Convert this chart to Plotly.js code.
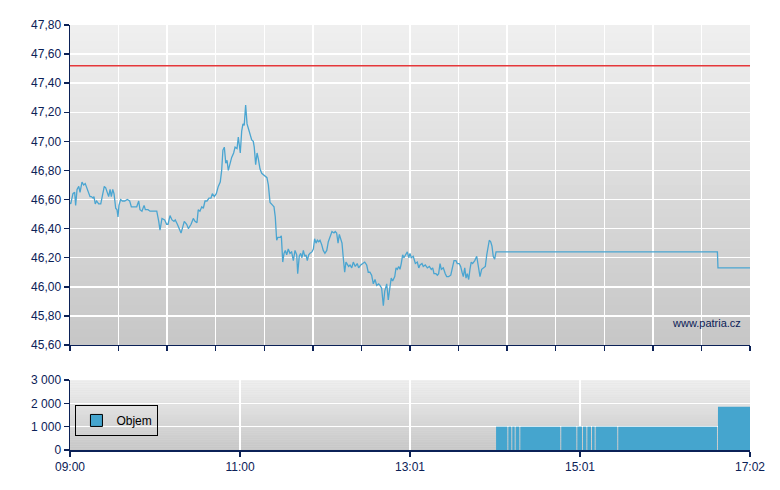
<!DOCTYPE html>
<html>
<head>
<meta charset="utf-8">
<script src="https://cdn.plot.ly/plotly-3.0.1.min.js"></script>
<style>html,body{margin:0;padding:0;background:#fff;}#chart{width:780px;height:490px;}</style>
</head>
<body>
<div id="chart"></div>
<script>
// ---- DATA ----
// minutes since 09:00
const priceMinutes = [0,0.5,2.1,3.3,4.0,5.0,6.2,7.1,8.5,9.7,10.8,12.3,13.3,14.2,15.1,16.3,17.0,17.9,18.9,20.3,21.8,23.2,24.3,25.3,26.4,27.4,28.4,29.3,30.3,31.2,32.4,33.3,34.0,34.7,35.9,37.1,38.8,40.6,42.3,43.5,45.4,47.3,48.7,49.6,51.0,52.5,53.4,55.3,56.7,58.1,60.0,61.5,62.9,63.8,65.2,67.1,68.5,69.5,70.9,72.3,73.7,74.6,76.1,76.8,78.7,79.6,81.0,82.7,83.9,85.8,87.4,88.6,90.0,90.9,92.1,93.4,94.5,95.7,97.1,98.5,99.9,100.9,102.3,103.7,105.1,106.5,107.5,108.4,109.4,110.4,111.3,112.2,113.4,114.6,116.0,117.0,118.4,119.3,120.7,121.7,122.6,123.5,124.5,125.5,126.4,127.6,128.8,129.9,130.6,131.6,132.6,133.5,134.7,135.9,137.0,138.2,139.6,140.6,141.8,143.7,144.6,145.5,146.5,147.4,148.9,149.8,150.8,151.7,152.6,153.6,154.7,155.9,157.1,158.3,159.5,160.7,161.4,162.5,163.5,164.4,165.4,166.4,167.3,168.2,169.2,170.1,171.5,172.5,173.4,174.4,175.3,176.3,177.2,178.4,179.5,180.7,182.0,183.1,184.3,185.7,187.1,188.0,189.0,190.0,190.9,191.9,192.8,193.7,194.7,195.6,196.6,197.5,198.5,199.7,200.8,202.2,203.6,204.6,206.1,207.5,208.9,210.3,211.4,212.6,213.8,215.0,216.2,217.4,218.8,219.7,220.9,222.1,223.1,224.5,225.6,226.8,227.7,228.7,230.2,231.1,232.0,233.0,233.9,234.8,235.8,236.7,238.2,239.1,240.1,241.0,241.9,243.3,244.8,246.2,247.2,248.1,249.5,250.4,251.8,253.3,254.7,256.1,257.1,258.0,259.4,260.4,261.3,262.3,263.2,264.6,266.0,267.0,268.4,269.9,270.8,272.2,273.6,274.5,275.9,276.9,277.9,278.8,279.8,280.7,281.6,282.6,283.5,284.4,285.4,286.9,288.3,289.2,290.6,291.8,293.0,294.4,295.4,296.3,297.2,298.2,299.1,300.0,301.0,302.0,458.9,459.3,482];
const priceValues = [46.58,46.57,46.64,46.65,46.56,46.67,46.69,46.65,46.72,46.70,46.71,46.67,46.64,46.62,46.62,46.61,46.62,46.57,46.59,46.57,46.57,46.63,46.69,46.68,46.64,46.62,46.67,46.62,46.67,46.64,46.54,46.53,46.48,46.56,46.60,46.59,46.59,46.60,46.59,46.55,46.55,46.55,46.59,46.53,46.52,46.56,46.53,46.53,46.52,46.52,46.52,46.52,46.45,46.39,46.47,46.46,46.43,46.43,46.49,46.46,46.45,46.46,46.43,
46.41,46.37,46.40,46.45,46.43,46.40,46.43,46.47,46.45,46.44,46.53,46.52,46.55,46.54,46.59,46.59,46.61,46.61,46.64,46.62,46.64,46.69,46.72,46.80,46.94,46.96,46.85,46.87,46.80,46.85,46.89,46.92,46.96,46.95,47.03,46.92,47.07,47.12,47.11,47.25,47.12,47.09,47.04,47.01,47.00,46.96,46.84,46.92,46.88,46.81,46.78,46.77,46.76,46.75,46.70,46.58,46.56,46.55,46.48,46.32,46.34,46.34,46.35,46.17,46.23,46.25,46.22,46.26,46.23,46.24,46.18,46.25,46.22,46.09,46.21,46.23,46.20,46.25,46.21,46.22,46.18,46.22,46.23,46.24,46.26,46.33,46.30,46.32,46.31,46.32,46.29,46.25,46.23,46.25,46.31,46.34,46.38,46.37,46.38,46.37,46.30,46.36,46.33,46.30,46.20,46.10,46.17,46.15,46.14,46.15,46.13,46.17,46.14,46.16,46.13,46.15,46.16,46.17,46.15,46.10,46.10,46.08,46.02,46.05,46.01,46.02,46.01,45.99,45.87,45.97,46.02,45.91,46.00,46.06,46.04,46.07,46.13,46.12,46.14,46.12,46.16,46.22,46.20,46.23,46.24,46.20,46.23,46.20,46.21,46.16,46.17,46.13,46.15,46.16,46.14,46.15,46.13,46.14,46.12,46.13,46.09,46.09,46.08,46.09,46.16,46.12,46.13,46.09,46.07,46.07,46.08,46.12,46.18,46.18,46.16,46.16,46.14,46.10,46.07,46.13,46.06,46.09,46.05,46.12,46.17,46.16,46.18,46.21,46.15,46.07,46.12,46.13,46.14,46.22,46.29,46.32,46.31,46.28,46.21,46.19,46.24,46.24,46.13,46.13];
const prevClose = 47.52;
const sessionStart = 0;
const sessionEnd = 482;
const volumeMinutes = [302.0,310.7,313.5,315.9,319.2,348.2,359.6,363.6,366.7,370.0,372.6,388.6,459.3];
const volumeValues = [1000,1000,1000,1000,1000,1000,1000,1000,1000,1000,1000,1000,1850];
const xTickLabels = ['09:00','11:00','13:01','15:01','17:02'];
const priceTicks = [45.6,45.8,46.0,46.2,46.4,46.6,46.8,47.0,47.2,47.4,47.6,47.8];
const volumeTicks = [0,1000,2000,3000];

// ---- STYLE ----
const navy = '#0b2157';
const blue = '#4aa5d1';
const font = 'Arial, "Liberation Sans", sans-serif';
const gap = 0.7;

const volWidths = volumeMinutes.map((t, i) => {
  const next = i < volumeMinutes.length - 1 ? volumeMinutes[i + 1] : sessionEnd;
  return next - t - (i < volumeMinutes.length - 1 ? gap : 0);
});

const span = sessionEnd - sessionStart;
const topTicks = [];
for (let k = 0; k <= 14; k++) topTicks.push(sessionStart + span * k / 14);
const bottomTicks = xTickLabels.map((_, k) => sessionStart + span * k / (xTickLabels.length - 1));

const traces = [
  {x: [sessionStart, sessionEnd], y: [prevClose, prevClose], type: 'scatter', mode: 'lines',
   line: {color: '#e5373a', width: 1.5}, xaxis: 'x', yaxis: 'y', showlegend: false, hoverinfo: 'skip'},
  {x: priceMinutes, y: priceValues, type: 'scatter', mode: 'lines',
   line: {color: blue, width: 1.3}, xaxis: 'x', yaxis: 'y', showlegend: false},
  {x: volumeMinutes, y: volumeValues, width: volWidths, offset: 0, type: 'bar',
   marker: {color: '#45a5ce', line: {width: 0}}, xaxis: 'x2', yaxis: 'y2', showlegend: false, name: 'Objem'},
  {x: [null], y: [null], type: 'bar', name: 'Objem',
   marker: {color: '#45a5ce', line: {color: '#000', width: 1}}, xaxis: 'x2', yaxis: 'y2', showlegend: true}
];

// gradient backgrounds
const shapes = [];
function gradient(xr, yr) {
  const n = 40;
  const c0 = 240, c1 = 198;
  for (let i = 0; i < n; i++) {
    const c = Math.round(c0 + (c1 - c0) * (i + 0.5) / n);
    shapes.push({type: 'rect', xref: xr, yref: yr, x0: 0, x1: 1,
      y0: 1 - (i + 1) / n, y1: 1 - i / n, fillcolor: `rgb(${c},${c},${c})`,
      line: {width: 0}, layer: 'below'});
  }
}
gradient('x domain', 'y domain');
gradient('x2 domain', 'y2 domain');

const axisCommon = {
  showline: true, linecolor: navy, linewidth: 1.5, ticks: 'outside', ticklen: 5,
  tickcolor: navy, tickwidth: 1.5, gridcolor: '#ffffff', gridwidth: 1.5, zeroline: false,
  tickfont: {family: font, size: 12, color: navy}, fixedrange: true
};

const layout = {
  width: 780, height: 490,
  margin: {l: 70, r: 30, t: 25, b: 40},
  paper_bgcolor: '#ffffff', plot_bgcolor: '#dcdcdc',
  separators: ', ',
  showlegend: true,
  legend: {x: 0.008, y: 0.106, xanchor: 'left', yanchor: 'top', bgcolor: 'rgba(0,0,0,0)',
    bordercolor: '#000', borderwidth: 1, font: {family: font, size: 12, color: '#000'},
    itemwidth: 30, tracegroupgap: 0},
  xaxis: Object.assign({}, axisCommon, {domain: [0, 1], range: [sessionStart, sessionEnd], anchor: 'y',
    tickmode: 'array', tickvals: topTicks, showticklabels: false}),
  yaxis: Object.assign({}, axisCommon, {domain: [0.2471, 1], range: [45.6, 47.8], anchor: 'x',
    tickmode: 'array', tickvals: priceTicks, tickformat: '.2f'}),
  xaxis2: Object.assign({}, axisCommon, {domain: [0, 1], range: [sessionStart, sessionEnd], anchor: 'y2',
    tickmode: 'array', tickvals: bottomTicks, ticktext: xTickLabels}),
  yaxis2: Object.assign({}, axisCommon, {domain: [0, 0.1647], range: [0, 3000], anchor: 'x2',
    tickmode: 'array', tickvals: volumeTicks, tickformat: ',d'}),
  shapes: shapes,
  annotations: [{text: 'www.patria.cz', xref: 'paper', yref: 'paper', x: 0.9897, y: 0.2988,
    xanchor: 'right', yanchor: 'middle', showarrow: false, font: {family: font, size: 11, color: navy}}]
};

Plotly.newPlot('chart', traces, layout, {displayModeBar: false, staticPlot: true});
</script>
</body>
</html>
